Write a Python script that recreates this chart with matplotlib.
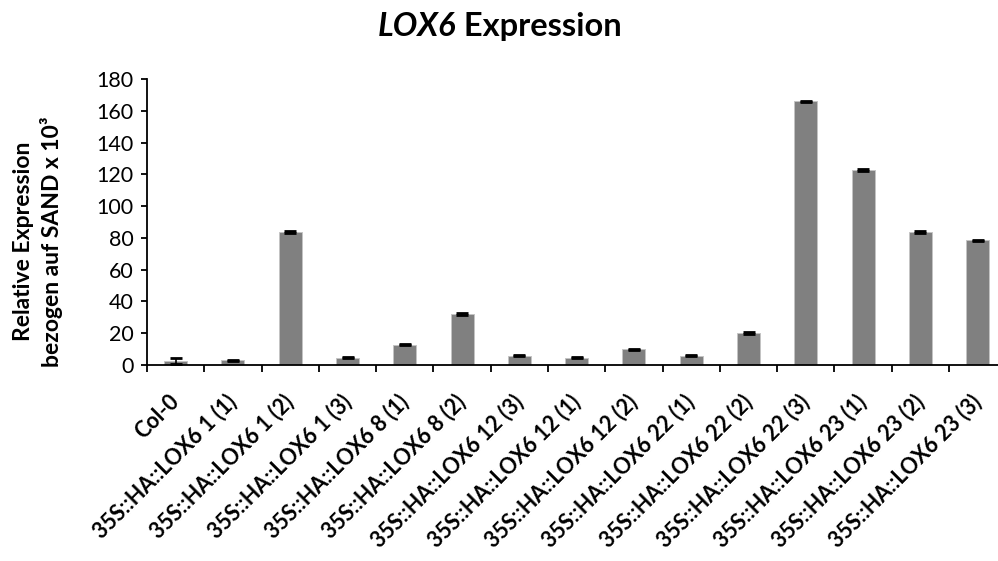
import numpy as np
import matplotlib.pyplot as plt

# Werte
categories = ["Col-0",
              "35S::HA::LOX6 1 (1)", "35S::HA::LOX6 1 (2)", "35S::HA::LOX6 1 (3)",
              "35S::HA::LOX6 8 (1)", "35S::HA::LOX6 8 (2)",
              "35S::HA::LOX6 12 (3)", "35S::HA::LOX6 12 (1)", "35S::HA::LOX6 12 (2)",
              "35S::HA::LOX6 22 (1)", "35S::HA::LOX6 22 (2)", "35S::HA::LOX6 22 (3)",
              "35S::HA::LOX6 23 (1)", "35S::HA::LOX6 23 (2)", "35S::HA::LOX6 23 (3)"]
values = [2.6, 3.0, 83.8, 4.7, 12.7, 32.0, 5.9, 4.5, 9.8, 5.7, 20.2, 165.9, 122.9, 83.7, 78.5]
errors = [1.9, 0.4, 0.5, 0.4, 0.4, 0.5, 0.4, 0.3, 0.4, 0.3, 0.4, 0.5, 0.5, 0.4, 0.4]
yticks = [0, 20, 40, 60, 80, 100, 120, 140, 160, 180]

plt.rcParams['font.family'] = ['Lato', 'DejaVu Sans']

fig = plt.figure(figsize=(9.98, 5.61), dpi=100)
# Achse läuft rechts etwas über den Bildrand hinaus (wie im Original)
ax = fig.add_axes([0.1473, 0.3494, 0.861, 0.5098])

x = np.arange(len(categories))
ax.bar(x, values, width=0.40, color='#808080', edgecolor='#c4c4c4', linewidth=0.7,
       yerr=errors, error_kw=dict(ecolor='black', elinewidth=1.2, capsize=4.3, capthick=2))

ax.set_xlim(-0.5, len(categories) - 0.5)
ax.set_ylim(0, 180)
ax.set_yticks(yticks)
ax.tick_params(axis='y', labelsize=15.5, length=4.5, width=1.3, direction='out', pad=5)

ax.set_xticks(x)
ax.set_xticklabels(categories, rotation=45, ha='right', va='center', rotation_mode='anchor',
                   fontsize=15.5, fontweight='bold')
ax.tick_params(axis='x', which='major', length=0, pad=24)
ax.set_xticks(np.arange(len(categories) + 1) - 0.5, minor=True)
ax.tick_params(axis='x', which='minor', length=5, width=1.3, direction='out')

for s in ['top', 'right']:
    ax.spines[s].set_visible(False)
for s in ['left', 'bottom']:
    ax.spines[s].set_linewidth(1.3)

fig.text(0.038, 0.570, "Relative Expression\nbezogen auf SAND x 10³", fontsize=16.5,
         fontweight='bold', rotation=90, ha='center', va='center', linespacing=1.3,
         multialignment='center')

# Titel: LOX6 kursiv
fig.text(0.457, 0.952, "LOX6", fontsize=23.5, fontweight='bold', style='italic',
         ha='right', va='center')
fig.text(0.457, 0.952, " Expression", fontsize=23.5, fontweight='bold',
         ha='left', va='center')

fig.savefig("out.png", dpi=100)
